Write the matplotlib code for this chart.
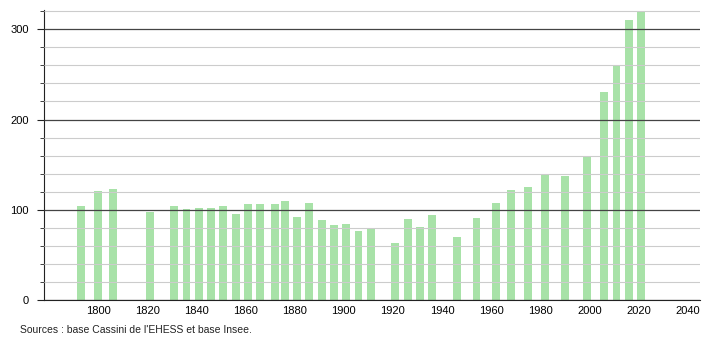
import matplotlib.pyplot as plt
from matplotlib.ticker import MultipleLocator

plt.rcParams['font.family'] = ['Liberation Sans', 'DejaVu Sans']

years = [1793, 1800, 1806, 1821, 1831, 1836, 1841, 1846, 1851, 1856,
         1861, 1866, 1872, 1876, 1881, 1886, 1891, 1896, 1901, 1906,
         1911, 1921, 1926, 1931, 1936, 1946, 1954, 1962, 1968, 1975,
         1982, 1990, 1999, 2006, 2011, 2016, 2021]
population = [104, 121, 123, 98, 104, 101, 102, 102, 104, 95,
              106, 106, 106, 110, 92, 107, 89, 83, 84, 76,
              79, 63, 90, 81, 94, 70, 91, 107, 122, 125,
              140, 137, 160, 231, 260, 310, 319]
source = "Sources : base Cassini de l'EHESS et base Insee."

fig = plt.figure(figsize=(7.1, 3.4), dpi=100)
ax = fig.add_axes([0.062, 0.1176, 0.924, 0.852])

ax.bar(years, population, width=3.2, color="#a8e2a8", zorder=2)

ax.set_xlim(1778, 2045)
ax.set_ylim(0, 321)
ax.yaxis.set_major_locator(MultipleLocator(100))
ax.yaxis.set_minor_locator(MultipleLocator(20))
ax.set_xticks(range(1800, 2041, 20))

# light lines every 20, dark ones every 100 drawn over the bars
ax.grid(axis="y", which="minor", color="#cccccc", linewidth=0.8, zorder=1)
ax.grid(axis="y", which="major", color="#444444", linewidth=0.9, zorder=3)
ax.set_axisbelow(False)

for s in ["top", "right"]:
    ax.spines[s].set_visible(False)
ax.spines["left"].set_color("#222222")
ax.spines["bottom"].set_color("#222222")

ax.tick_params(axis="y", which="major", length=5, labelsize=8, pad=6, color="#222222")
ax.tick_params(axis="y", which="minor", length=3, color="#222222")
ax.tick_params(axis="x", length=0, labelsize=8, pad=4)

fig.text(0.028, 0.02, source, fontsize=7.5, color="#222222")

fig.savefig("out.png", dpi=100)
